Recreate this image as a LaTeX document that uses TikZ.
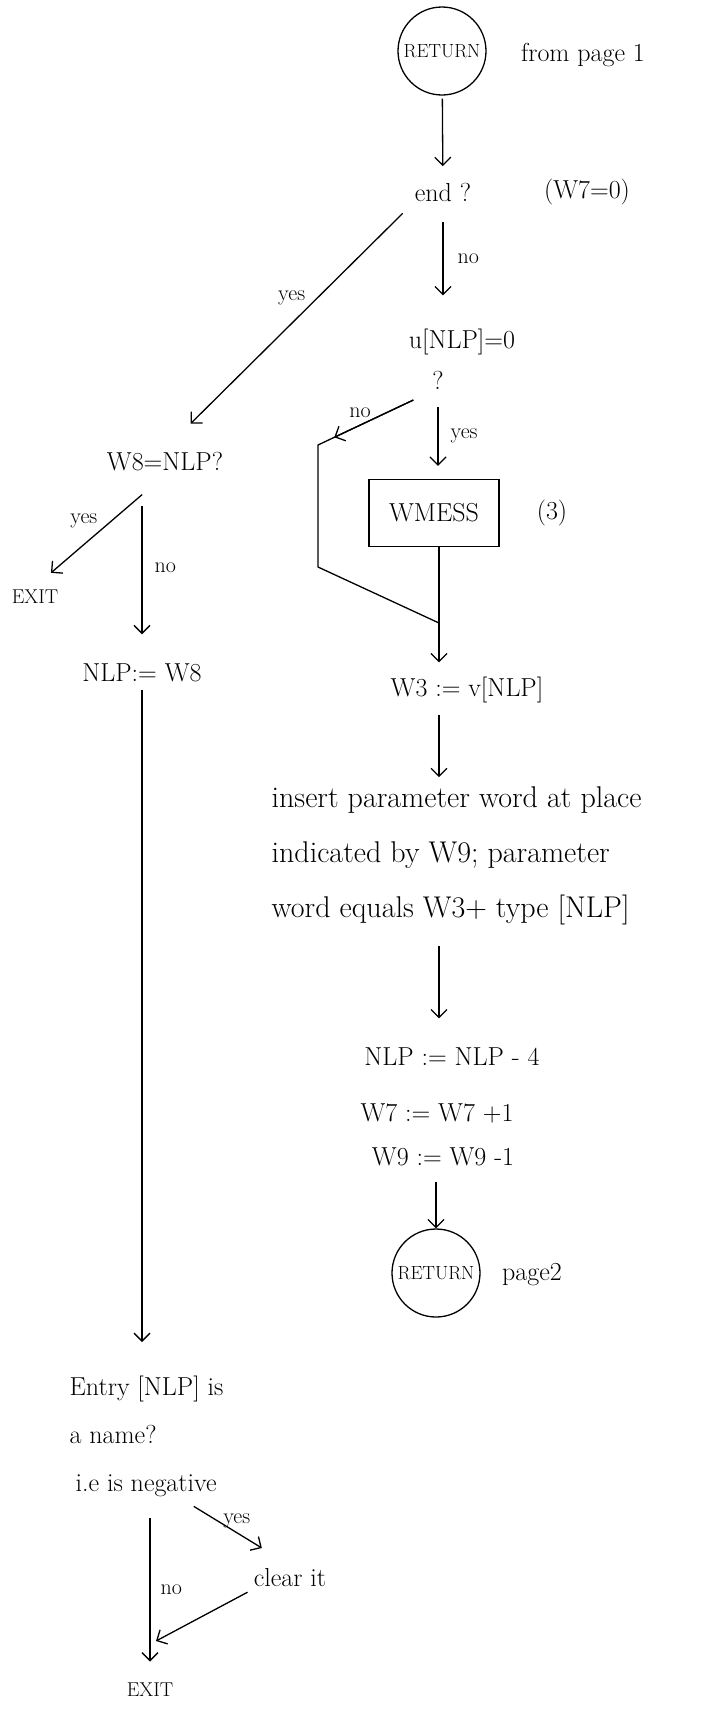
\documentclass[tikz,border=0pt]{standalone}
\usepackage{fontspec}
\usetikzlibrary{arrows.meta}
\tikzset{
  hand/.style={font=\fontsize{26}{30}\selectfont, inner sep=3pt},
  lbl/.style={font=\fontsize{22}{26}\selectfont, inner sep=2pt},
  small/.style={font=\fontsize{20}{24}\selectfont, inner sep=3pt},
  retcirc/.style={draw, circle, minimum size=88pt, inner sep=0pt, font=\fontsize{19}{22}\selectfont},
  flow/.style={->},
}
\begin{document}
\begin{tikzpicture}[x=1pt, y=-1pt, line width=1.3pt, >={Straight Barb[length=8pt, width=16pt]}]
\useasboundingbox (0,0) rectangle (707,1719);

% right column
\node[retcirc] (ret1) at (442,51) {RETURN};
\node[hand] (from1) at (583,55) {from page 1};
\node[hand] (endq) at (443,192) {end ?};
\node[hand] (w7z) at (587,192) {(W7=0)};
\node[hand] (unlp) at (462,342) {u[NLP]=0};
\node[hand] (unlpq) at (438,380) {?};
\node[hand, draw, minimum width=130pt, minimum height=67pt] (wmess) at (434,513) {WMESS};
\node[hand] (three) at (552,513) {(3)};
\node[hand] (w3) at (467,690) {W3 := v[NLP]};
\node[hand, font=\fontsize{30}{55}\selectfont, align=left, anchor=west] (ins) at (268,856)
  {insert parameter word at place\\indicated by W9; parameter\\word equals W3+ type [NLP]};
\node[hand] (nlp4) at (452,1057) {NLP := NLP - 4};
\node[hand] (w7) at (437,1113) {W7 := W7 +1};
\node[hand] (w9) at (443,1157) {W9 := W9 -1};
\node[retcirc] (ret2) at (436,1273) {RETURN};
\node[hand] (page2) at (532,1275) {page2};

% left column
\node[hand] (w8) at (165,462) {W8=NLP?};
\node[small] (exit1) at (35,597) {EXIT};
\node[hand] (nlpw8) at (142,673) {NLP:= W8};
\node[hand, font=\fontsize{26}{48}\selectfont, align=left, anchor=north west] (entry) at (66,1372)
  {Entry [NLP] is\\a name?\\\hspace{6pt}i.e is negative};
\node[hand] (clear) at (290,1578) {clear it};
\node[small] (exit2) at (150,1690) {EXIT};

\coordinate (cnr) at (318,445);
\coordinate (cnrlow) at (318,567);
\coordinate (join) at (439,623);
\coordinate (merge) at (156,1641);

% connectors, right
\draw[flow, shorten <=3pt, shorten >=13pt] (ret1) -- (endq);
\draw[flow, shorten <=17pt, shorten >=30pt] (endq.south) -- (endq.south |- unlp.north)
  node[lbl, pos=0.45, right=12pt] {no};
\draw[flow, shorten <=14pt, shorten >=13pt] (unlpq.south) -- (unlpq.south |- wmess.north)
  node[lbl, pos=0.5, right=10pt] {yes};
\draw[shorten <=17pt] (unlpq.south west) -- (cnr) -- (cnrlow) -- (join);
\draw[flow, shorten <=17pt, shorten >=18pt] (unlpq.south west) -- (cnr)
  node[lbl, pos=0.62, above=5pt] {no};
\draw[flow, shorten >=11pt] (join |- wmess.south) -- (join |- w3.north);
\draw[flow, shorten <=8pt, shorten >=6pt] (join |- w3.south) -- (join |- ins.north);
\draw[flow, shorten <=17pt, shorten >=26pt] (join |- ins.south) -- (join |- nlp4.north);
\draw[flow, shorten <=12pt] (ret2 |- w9.south) -- (ret2.north);

% connectors, left
\draw[flow, shorten <=12pt, shorten >=36pt] (endq.south west) -- (w8.north)
  node[lbl, pos=0.42, above left] {yes};
\draw[flow, shorten <=30pt, shorten >=21pt] (w8.south) -- (exit1.north)
  node[lbl, pos=0.5, above left] {yes};
\draw[flow, shorten <=31pt, shorten >=26pt] (nlpw8.north |- w8.south) -- (nlpw8.north)
  node[lbl, midway, right=10pt] {no};
\draw[flow, shorten <=4pt, shorten >=30pt] (nlpw8.south) -- (nlpw8.south |- entry.north);
\draw[flow, shorten <=12pt, shorten >=33pt] (entry.-60) -- (clear.north)
  node[lbl, pos=0.5, above=2pt] {yes};
\draw[flow, shorten <=18pt, shorten >=18pt] (exit2 |- entry.south) -- (exit2.north)
  node[lbl, midway, right=8pt] {no};
\draw[flow, shorten <=3pt] (clear.south west) -- (merge);
\end{tikzpicture}
\end{document}
